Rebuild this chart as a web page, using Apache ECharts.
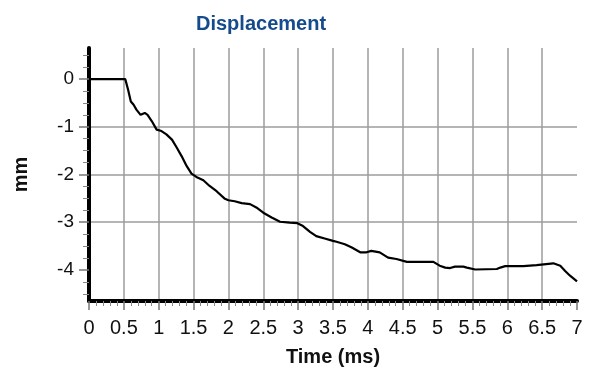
<!DOCTYPE html>
<html>
<head>
<meta charset="utf-8">
<script src="https://cdn.jsdelivr.net/npm/echarts@6/dist/echarts.min.js"></script>
<style>
html,body{margin:0;padding:0;background:#fff;}
#chart{width:592px;height:372px;}
</style>
</head>
<body>
<div id="chart"></div>
<script>
var timeMs = [0, 0.52, 0.56, 0.60, 0.64, 0.68, 0.74, 0.80, 0.84, 0.90, 0.97, 1.04, 1.11, 1.19, 1.26, 1.33, 1.40, 1.47, 1.54, 1.64, 1.73, 1.83, 1.95, 2.00, 2.09, 2.19, 2.31, 2.40, 2.50, 2.62, 2.74, 2.88, 2.99, 3.07, 3.17, 3.26, 3.38, 3.50, 3.55, 3.67, 3.77, 3.89, 3.98, 4.05, 4.17, 4.29, 4.41, 4.56, 4.75, 4.94, 5.03, 5.11, 5.18, 5.25, 5.37, 5.42, 5.54, 5.85, 5.90, 5.97, 6.23, 6.42, 6.44, 6.66, 6.76, 6.83, 6.90, 7.0];
var displacement = [0, 0, -0.22, -0.47, -0.54, -0.64, -0.75, -0.71, -0.75, -0.88, -1.06, -1.09, -1.16, -1.27, -1.44, -1.62, -1.82, -1.98, -2.05, -2.12, -2.24, -2.35, -2.51, -2.54, -2.56, -2.60, -2.62, -2.69, -2.80, -2.90, -2.99, -3.01, -3.02, -3.08, -3.20, -3.29, -3.34, -3.39, -3.41, -3.46, -3.53, -3.63, -3.63, -3.60, -3.63, -3.74, -3.77, -3.83, -3.83, -3.83, -3.91, -3.95, -3.96, -3.93, -3.93, -3.95, -3.99, -3.98, -3.95, -3.92, -3.92, -3.90, -3.86, -3.86, -3.91, -4.02, -4.12, -4.24];
var yTickValues = [0, -1, -2, -3, -4];

var points = timeMs.map(function (t, i) { return [t, displacement[i]]; });
var font = 'Liberation Sans, Arial, sans-serif';

var chart = echarts.init(document.getElementById('chart'), null, {renderer: 'canvas'});
chart.setOption({
  animation: false,
  backgroundColor: '#ffffff',
  title: {
    text: 'Displacement',
    left: 191,
    top: 9,
    textStyle: {fontFamily: font, fontSize: 20, fontWeight: 'bold', color: '#154a8c'}
  },
  grid: {left: 89, right: 15, top: 48, bottom: 69, containLabel: false},
  xAxis: {
    type: 'value',
    min: 0, max: 7, interval: 0.5,
    name: 'Time (ms)',
    nameLocation: 'middle',
    nameGap: 46,
    nameTextStyle: {fontFamily: font, fontSize: 20, fontWeight: 'bold', color: '#111'},
    axisLine: {show: true, onZero: false, lineStyle: {color: '#000', width: 4}},
    axisTick: {show: true, length: 9, lineStyle: {color: '#777', width: 1.5}},
    minorTick: {show: true, splitNumber: 5, length: 5, lineStyle: {color: '#888', width: 1}},
    axisLabel: {fontFamily: font, fontSize: 20, color: '#111', margin: 17,
      formatter: function (v) { return String(Math.round(v * 10) / 10); }},
    splitLine: {show: true, showMinLine: false, showMaxLine: false, lineStyle: {color: '#9c9c9c', width: 1.5}}
  },
  yAxis: {
    type: 'value',
    min: -4.65, max: 0.65, splitNumber: 5,
    name: 'mm',
    nameLocation: 'middle',
    nameGap: 58,
    nameRotate: 90,
    nameTextStyle: {fontFamily: font, fontSize: 20, fontWeight: 'bold', color: '#111'},
    axisLine: {show: true, onZero: false, lineStyle: {color: '#000', width: 4}},
    axisTick: {show: true, length: 10, customValues: yTickValues, lineStyle: {color: '#777', width: 1.5}},
    minorTick: {show: true, splitNumber: 4, length: 6, lineStyle: {color: '#888', width: 1}},
    axisLabel: {fontFamily: font, fontSize: 19, color: '#111', margin: 15, customValues: yTickValues,
      formatter: function (v) { return String(Math.round(v)); }},
    splitLine: {show: true, showMinLine: false, showMaxLine: false, lineStyle: {color: '#9c9c9c', width: 1.5}}
  },
  series: [{
    type: 'line',
    data: points,
    showSymbol: false,
    lineStyle: {color: '#000', width: 2.2},
    z: 5
  }]
});
</script>
</body>
</html>
